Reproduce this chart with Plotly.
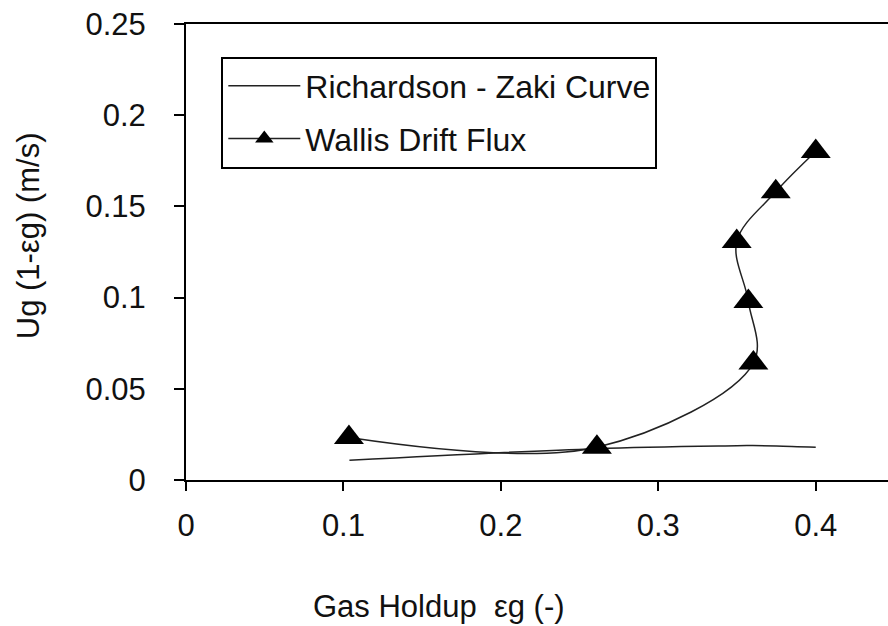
import plotly.graph_objects as go

# Data
rz_x = [0.1038, 0.261, 0.350, 0.357, 0.360, 0.375, 0.400]
rz_y = [0.0108, 0.0172, 0.0188, 0.0189, 0.0189, 0.0187, 0.0180]

wallis_x = [0.1035, 0.261, 0.3604, 0.3572, 0.3498, 0.3746, 0.400]
wallis_y = [0.0233, 0.0180, 0.0641, 0.0978, 0.1307, 0.1580, 0.1801]

x_ticks = [0, 0.1, 0.2, 0.3, 0.4]
x_ticktext = ["0", "0.1", "0.2", "0.3", "0.4"]
y_ticks = [0, 0.05, 0.1, 0.15, 0.2, 0.25]
y_ticktext = ["0", "0.05", "0.1", "0.15", "0.2", "0.25"]

FONT = "Liberation Sans, Arial, sans-serif"
FS = 31
TXT = "#111111"

fig = go.Figure()
fig.add_trace(go.Scatter(
    x=rz_x, y=rz_y, mode="lines", name="Richardson - Zaki Curve",
    line=dict(color="#222222", width=1.5, shape="spline", smoothing=1),
    legendgroup="a",
))
fig.add_trace(go.Scatter(
    x=wallis_x, y=wallis_y, mode="lines+markers", name="Wallis Drift Flux",
    line=dict(color="#222222", width=1.5, shape="spline", smoothing=1),
    marker=dict(symbol="triangle-up", size=26, color="black"),
    legendgroup="b",
))

L, R, T, B = 186, 0, 24, 146
fig.update_layout(
    width=888, height=626,
    margin=dict(l=L, r=R, t=T, b=B),
    paper_bgcolor="white", plot_bgcolor="white",
    font=dict(family=FONT, size=FS, color=TXT),
    showlegend=True,
    legend=dict(
        x=0.0503, y=0.9286, xanchor="left", yanchor="top",
        bordercolor="black", borderwidth=2, bgcolor="white",
        font=dict(family=FONT, size=32, color=TXT),
        tracegroupgap=8, traceorder="grouped", itemwidth=72,
    ),
    xaxis=dict(
        range=[0, 0.4459], tickvals=x_ticks, ticktext=x_ticktext,
        showline=True, linecolor="black", linewidth=2, mirror=True,
        ticks="outside", ticklen=9, tickwidth=2, tickcolor="black",
        showgrid=False, zeroline=False, ticklabelstandoff=8,
        tickfont=dict(family=FONT, size=FS, color=TXT),
    ),
    yaxis=dict(
        range=[0, 0.25], tickvals=y_ticks, ticktext=y_ticktext,
        showline=True, linecolor="black", linewidth=2, mirror=False,
        ticks="outside", ticklen=10, tickwidth=2, tickcolor="black",
        showgrid=False, zeroline=False, ticklabelstandoff=22,
        tickfont=dict(family=FONT, size=FS, color=TXT),
    ),
    annotations=[
        dict(text="Gas Holdup  \u03b5g (-)", xref="paper", yref="paper",
             x=0.3607, y=-0.278, xanchor="center", yanchor="middle",
             showarrow=False, font=dict(family=FONT, size=FS, color=TXT)),
        dict(text="Ug (1-\u03b5g) (m/s)", xref="paper", yref="paper",
             x=-0.2245, y=0.5354, xanchor="center", yanchor="middle",
             textangle=-90, showarrow=False,
             font=dict(family=FONT, size=FS, color=TXT)),
    ],
)

fig.write_html("out.html")
